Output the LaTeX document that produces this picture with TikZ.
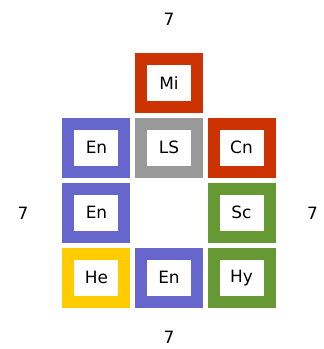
\documentclass[tikz,border=0pt]{standalone}
\usepackage{fontspec}
\setmainfont{DejaVu Sans}
\usetikzlibrary{positioning}

\definecolor{rot}{HTML}{CC3300}
\definecolor{blau}{HTML}{6666CC}
\definecolor{grau}{HTML}{999999}
\definecolor{gruen}{HTML}{669933}
\definecolor{gelb}{HTML}{FFCC00}

\begin{document}
\begin{tikzpicture}[
  x=1bp, y=1bp,
  font=\fontsize{17}{19}\selectfont,
  feld/.style={draw, line width=12bp, fill=white, minimum width=56bp,
               minimum height=48bp, inner sep=0pt, outer sep=6bp},
  zahl/.style={inner sep=0pt},
  node distance=5bp and 4.5bp
]
  \useasboundingbox (0,0) rectangle (324,-349);

  % obere Reihe
  \node[feld, draw=rot] (mi) at (169,-82.7) {Mi};
  \node[feld, draw=grau, below=of mi] (ls) {LS};
  \node[feld, draw=blau, left=of ls] (en1) {En};
  \node[feld, draw=rot, right=of ls] (cn) {Cn};

  % Seiten
  \node[feld, draw=blau, below=of en1] (en2) {En};
  \node[feld, draw=gruen, below=of cn] (sc) {Sc};

  % untere Reihe
  \node[feld, draw=gelb, below=of en2] (he) {He};
  \node[feld, draw=blau, right=of he] (en3) {En};
  \node[feld, draw=gruen, below=of sc] (hy) {Hy};

  % Zahlen
  \node[zahl] (oben) at (169,-19) {7};
  \node[zahl] (links) at (23,-213) {7};
  \node[zahl] (rechts) at (312.5,-213) {7};
  \node[zahl] (unten) at (169,-337) {7};
\end{tikzpicture}
\end{document}
